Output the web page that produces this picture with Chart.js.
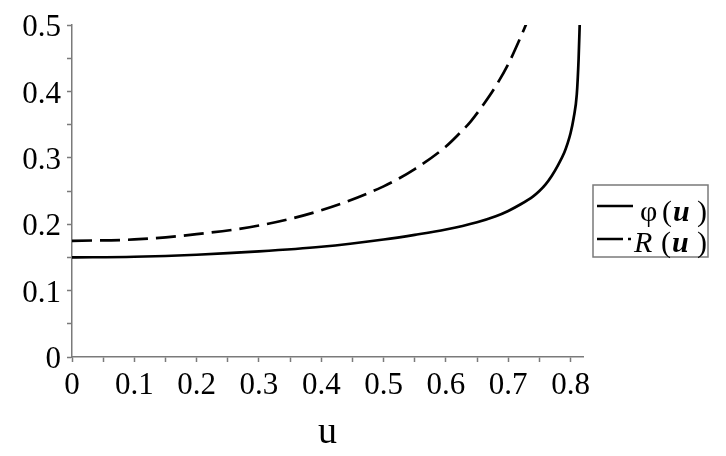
<!DOCTYPE html>
<html>
<head>
<meta charset="utf-8">
<script src="https://cdn.jsdelivr.net/npm/chart.js@4/dist/chart.umd.min.js"></script>
<style>
html,body{margin:0;padding:0;background:#fff;}
#wrap{width:726px;height:456px;position:relative;}
</style>
</head>
<body>
<div id="wrap"><canvas id="c" width="726" height="456"></canvas></div>
<script>
// ---- data ----
const uPhi = [0, 0.1, 0.2, 0.3, 0.4, 0.5, 0.55, 0.6, 0.65, 0.68, 0.7, 0.72, 0.74, 0.75, 0.76, 0.77, 0.78, 0.79, 0.795, 0.80, 0.805, 0.81, 0.813, 0.815];
const phiVals = [0.150, 0.151, 0.154, 0.159, 0.166, 0.177, 0.184, 0.192, 0.203, 0.212, 0.220, 0.230, 0.242, 0.250, 0.260, 0.273, 0.289, 0.308, 0.321, 0.337, 0.360, 0.395, 0.450, 0.510];
const uR = [0, 0.1, 0.2, 0.3, 0.4, 0.5, 0.55, 0.6, 0.62, 0.64, 0.66, 0.68, 0.7, 0.72, 0.735];
const rVals = [0.175, 0.177, 0.185, 0.198, 0.221, 0.257, 0.283, 0.317, 0.335, 0.355, 0.380, 0.408, 0.441, 0.482, 0.515];
const xTickValues = [0, 0.1, 0.2, 0.3, 0.4, 0.5, 0.6, 0.7, 0.8];
const yTickValues = [0, 0.1, 0.2, 0.3, 0.4, 0.5];
const seriesNames = ['φ', 'R'];
const xTitle = 'u';

const FONT = '"Liberation Serif", "Times New Roman", serif';
const AXIS_GREY = '#7a7a7a';

function isLabelled(v, list) {
  return list.some(t => Math.abs(t - v) < 1e-6);
}
function fmt(v) {
  return Math.abs(v) < 1e-9 ? '0' : (Math.round(v * 10) / 10).toFixed(1);
}

const legendPlugin = {
  id: 'mapleLegend',
  afterDraw(chart) {
    const ctx = chart.ctx;
    const x0 = 593, y0 = 185, w = 115, h = 72;
    ctx.save();
    ctx.strokeStyle = AXIS_GREY;
    ctx.lineWidth = 1.5;
    ctx.strokeRect(x0, y0, w, h);
    const rows = [
      { y: 206, base: 221, dash: [], segs: [
        { t: seriesNames[0], x: 640, st: '' },
        { t: '(', x: 662, st: '' },
        { t: 'u', x: 673, st: 'italic bold ' },
        { t: ')', x: 697, st: '' } ] },
      { y: 239, base: 252, dash: [26, 5, 3, 20], segs: [
        { t: seriesNames[1], x: 634, st: 'italic ' },
        { t: '(', x: 661, st: '' },
        { t: 'u', x: 672, st: 'italic bold ' },
        { t: ')', x: 697, st: '' } ] }
    ];
    rows.forEach(r => {
      ctx.beginPath();
      ctx.setLineDash(r.dash);
      ctx.strokeStyle = '#000';
      ctx.lineWidth = 2.6;
      ctx.moveTo(597, r.y);
      ctx.lineTo(633, r.y);
      ctx.stroke();
      ctx.setLineDash([]);
      ctx.fillStyle = '#000';
      ctx.textBaseline = 'alphabetic';
      r.segs.forEach(s => {
        ctx.font = s.st + '30px ' + FONT;
        ctx.fillText(s.t, s.x, r.base);
      });
    });
    ctx.restore();
  }
};

new Chart(document.getElementById('c'), {
  type: 'line',
  data: {
    datasets: [
      {
        label: seriesNames[0],
        data: uPhi.map((u, i) => ({ x: u, y: phiVals[i] })),
        borderColor: '#000',
        borderWidth: 2.7,
        pointRadius: 0,
        fill: false,
        cubicInterpolationMode: 'monotone'
      },
      {
        label: seriesNames[1],
        data: uR.map((u, i) => ({ x: u, y: rVals[i] })),
        borderColor: '#000',
        borderWidth: 2.7,
        borderDash: [20, 8],
        pointRadius: 0,
        fill: false,
        cubicInterpolationMode: 'monotone'
      }
    ]
  },
  options: {
    responsive: false,
    animation: false,
    devicePixelRatio: 1,
    layout: { padding: { left: 0, right: 143, top: 25, bottom: 0 } },
    plugins: { legend: { display: false }, tooltip: { enabled: false } },
    scales: {
      x: {
        type: 'linear',
        min: 0,
        max: 0.82,
        afterFit(s) { s.height = 99; },
        border: { display: true, color: AXIS_GREY, width: 1.5 },
        grid: { drawOnChartArea: false, drawTicks: true, tickLength: 5, color: AXIS_GREY, tickWidth: 1.5 },
        ticks: {
          stepSize: 0.05,
          includeBounds: false,
          autoSkip: false,
          maxRotation: 0,
          padding: 5,
          color: '#000',
          font: { family: FONT, size: 31 },
          callback: v => isLabelled(v, xTickValues) ? fmt(v) : ''
        },
        title: {
          display: true,
          text: xTitle,
          color: '#000',
          font: { family: FONT, size: 38 },
          padding: { top: 0, bottom: 0 }
        }
      },
      y: {
        type: 'linear',
        min: 0,
        max: 0.5,
        afterFit(s) { s.width = 72; },
        border: { display: true, color: AXIS_GREY, width: 1.5 },
        grid: { drawOnChartArea: false, drawTicks: true, tickLength: 5, color: AXIS_GREY, tickWidth: 1.5 },
        ticks: {
          stepSize: 0.05,
          includeBounds: false,
          autoSkip: false,
          padding: 6,
          labelOffset: 3,
          color: '#000',
          font: { family: FONT, size: 31 },
          callback: v => isLabelled(v, yTickValues) ? fmt(v) : ''
        }
      }
    }
  },
  plugins: [legendPlugin]
});
</script>
</body>
</html>
